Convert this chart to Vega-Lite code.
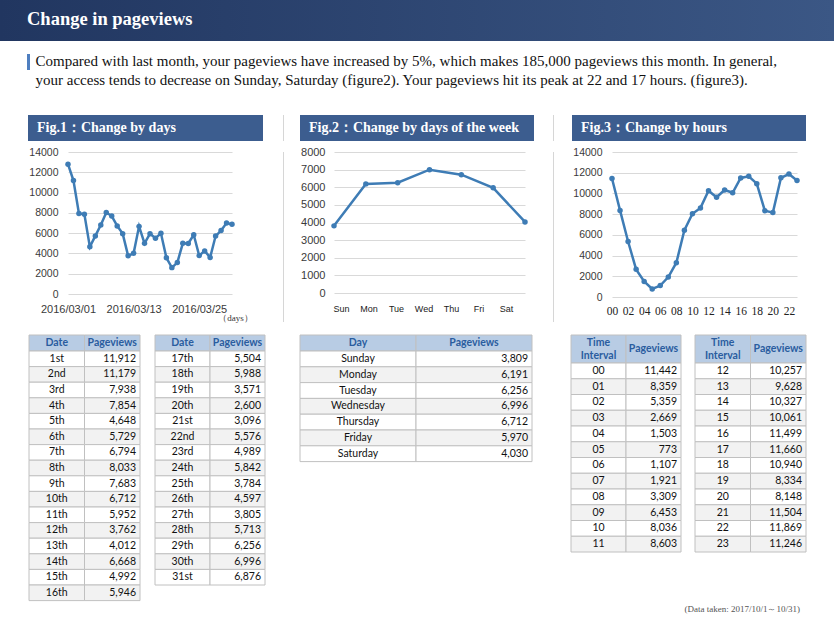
{
"$schema": "https://vega.github.io/schema/vega-lite/v6.json",
"background": "white",
"padding": 0,
"spacing": 0,
"config": {
  "view": {"stroke": null},
  "concat": {"spacing": 0},
  "axis": {"domain": false, "ticks": false, "labelFont": "Liberation Sans", "labelColor": "#3a3a3a", "labelFlush": false, "labelOverlap": false, "gridColor": "#d9d9d9", "gridWidth": 1},
  "axisY": {"grid": true, "labelPadding": 10, "format": "d"},
  "axisX": {"grid": false}
},
"datasets": {
  "fig1": [
    {"day":1,"label":"1st","date":"2016/03/01","pv":11912,"chart":12800},
    {"day":2,"label":"2nd","date":"2016/03/02","pv":11179,"chart":11179},
    {"day":3,"label":"3rd","date":"2016/03/03","pv":7938,"chart":7938},
    {"day":4,"label":"4th","date":"2016/03/04","pv":7854,"chart":7854},
    {"day":5,"label":"5th","date":"2016/03/05","pv":4648,"chart":4648},
    {"day":6,"label":"6th","date":"2016/03/06","pv":5729,"chart":5729},
    {"day":7,"label":"7th","date":"2016/03/07","pv":6794,"chart":6794},
    {"day":8,"label":"8th","date":"2016/03/08","pv":8033,"chart":8033},
    {"day":9,"label":"9th","date":"2016/03/09","pv":7683,"chart":7683},
    {"day":10,"label":"10th","date":"2016/03/10","pv":6712,"chart":6712},
    {"day":11,"label":"11th","date":"2016/03/11","pv":5952,"chart":5952},
    {"day":12,"label":"12th","date":"2016/03/12","pv":3762,"chart":3762},
    {"day":13,"label":"13th","date":"2016/03/13","pv":4012,"chart":4012},
    {"day":14,"label":"14th","date":"2016/03/14","pv":6668,"chart":6668},
    {"day":15,"label":"15th","date":"2016/03/15","pv":4992,"chart":4992},
    {"day":16,"label":"16th","date":"2016/03/16","pv":5946,"chart":5946},
    {"day":17,"label":"17th","date":"2016/03/17","pv":5504,"chart":5504},
    {"day":18,"label":"18th","date":"2016/03/18","pv":5988,"chart":5988},
    {"day":19,"label":"19th","date":"2016/03/19","pv":3571,"chart":3571},
    {"day":20,"label":"20th","date":"2016/03/20","pv":2600,"chart":2600},
    {"day":21,"label":"21st","date":"2016/03/21","pv":3096,"chart":3096},
    {"day":22,"label":"22nd","date":"2016/03/22","pv":5576,"chart":5000},
    {"day":23,"label":"23rd","date":"2016/03/23","pv":4989,"chart":4989},
    {"day":24,"label":"24th","date":"2016/03/24","pv":5842,"chart":5842},
    {"day":25,"label":"25th","date":"2016/03/25","pv":3784,"chart":3784},
    {"day":26,"label":"26th","date":"2016/03/26","pv":4597,"chart":4250},
    {"day":27,"label":"27th","date":"2016/03/27","pv":3805,"chart":3600},
    {"day":28,"label":"28th","date":"2016/03/28","pv":5713,"chart":5713},
    {"day":29,"label":"29th","date":"2016/03/29","pv":6256,"chart":6256},
    {"day":30,"label":"30th","date":"2016/03/30","pv":6996,"chart":6996},
    {"day":31,"label":"31st","date":"2016/03/31","pv":6876,"chart":6876}
  ],
  "fig2": [
    {"n":1,"day":"Sunday","short":"Sun","pv":3809},
    {"n":2,"day":"Monday","short":"Mon","pv":6191},
    {"n":3,"day":"Tuesday","short":"Tue","pv":6256},
    {"n":4,"day":"Wednesday","short":"Wed","pv":6996},
    {"n":5,"day":"Thursday","short":"Thu","pv":6712},
    {"n":6,"day":"Friday","short":"Fri","pv":5970},
    {"n":7,"day":"Saturday","short":"Sat","pv":4030}
  ],
  "fig3": [
    {"hour":"00","pv":11442},{"hour":"01","pv":8359},{"hour":"02","pv":5359},{"hour":"03","pv":2669},
    {"hour":"04","pv":1503},{"hour":"05","pv":773},{"hour":"06","pv":1107},{"hour":"07","pv":1921},
    {"hour":"08","pv":3309},{"hour":"09","pv":6453},{"hour":"10","pv":8036},{"hour":"11","pv":8603},
    {"hour":"12","pv":10257},{"hour":"13","pv":9628},{"hour":"14","pv":10327},{"hour":"15","pv":10061},
    {"hour":"16","pv":11499},{"hour":"17","pv":11660},{"hour":"18","pv":10940},{"hour":"19","pv":8334},
    {"hour":"20","pv":8148},{"hour":"21","pv":11504},{"hour":"22","pv":11869},{"hour":"23","pv":11246}
  ],
  "texts": [
    {"line":1,"text":"Compared with last month, your pageviews have increased by 5%, which makes 185,000 pageviews this month. In general,"},
    {"line":2,"text":"your access tends to decrease on Sunday, Saturday (figure2). Your pageviews hit its peak at 22 and 17 hours. (figure3)."}
  ]
},
"vconcat": [
  {"width": 834, "height": 41, "data": {"values": [{"t": "Change in pageviews"}]},
   "mark": {"type": "text", "align": "left", "dx": -390, "dy": -1.5, "font": "Liberation Serif", "fontSize": 18.5, "fontWeight": "bold", "color": "#ffffff"},
   "encoding": {"text": {"field": "t", "type": "nominal"}},
   "view": {"stroke": null, "fill": {"gradient": "linear", "x1": 0, "y1": 0, "x2": 1, "y2": 0, "stops": [{"offset": 0, "color": "#213660"}, {"offset": 1, "color": "#3b5785"}]}}},
  {"width": 1, "height": 13, "data": {"values": []}, "mark": "point", "encoding": {}},
  {"bounds": "flush", "hconcat": [
    {"width": 27, "height": 1, "data": {"values": []}, "mark": "point", "encoding": {}},
    {"width": 3, "height": 16, "data": {"values": []}, "mark": "point", "encoding": {}, "view": {"stroke": null, "fill": "#4f7fc0"}},
    {"width": 5, "height": 1, "data": {"values": []}, "mark": "point", "encoding": {}},
    {"width": 1, "height": 38, "data": {"name": "texts"},
     "mark": {"type": "text", "align": "left", "dy": -2.5, "font": "Liberation Serif", "fontSize": 15, "color": "#111111"},
     "encoding": {"y": {"field": "line", "type": "ordinal", "axis": null}, "text": {"field": "text", "type": "nominal"}}}
  ]},
  {"width": 1, "height": 23, "data": {"values": []}, "mark": "point", "encoding": {}},
  {"bounds": "flush", "hconcat": [
    {"width": 28, "height": 1, "data": {"values": []}, "mark": "point", "encoding": {}},
    {"width": 235, "height": 26, "data": {"values": [{"t": "Fig.1：Change by days"}]},
     "mark": {"type": "text", "align": "left", "dx": -108.5, "font": "Liberation Serif", "fontSize": 14, "fontWeight": "bold", "color": "#ffffff"},
     "encoding": {"text": {"field": "t", "type": "nominal"}}, "view": {"stroke": null, "fill": "#3c5d8f"}},
    {"width": 20, "height": 1, "data": {"values": []}, "mark": "point", "encoding": {}},
    {"width": 1, "height": 26, "data": {"values": []}, "mark": "point", "encoding": {}, "view": {"stroke": null, "fill": "#d6d6d6"}},
    {"width": 16, "height": 1, "data": {"values": []}, "mark": "point", "encoding": {}},
    {"width": 234, "height": 26, "data": {"values": [{"t": "Fig.2：Change by days of the week"}]},
     "mark": {"type": "text", "align": "left", "dx": -108, "font": "Liberation Serif", "fontSize": 14, "fontWeight": "bold", "color": "#ffffff"},
     "encoding": {"text": {"field": "t", "type": "nominal"}}, "view": {"stroke": null, "fill": "#3c5d8f"}},
    {"width": 19, "height": 1, "data": {"values": []}, "mark": "point", "encoding": {}},
    {"width": 1, "height": 26, "data": {"values": []}, "mark": "point", "encoding": {}, "view": {"stroke": null, "fill": "#d6d6d6"}},
    {"width": 18, "height": 1, "data": {"values": []}, "mark": "point", "encoding": {}},
    {"width": 234, "height": 26, "data": {"values": [{"t": "Fig.3：Change by hours"}]},
     "mark": {"type": "text", "align": "left", "dx": -108, "font": "Liberation Serif", "fontSize": 14, "fontWeight": "bold", "color": "#ffffff"},
     "encoding": {"text": {"field": "t", "type": "nominal"}}, "view": {"stroke": null, "fill": "#3c5d8f"}}
  ]},
  {"width": 1, "height": 4.5, "data": {"values": []}, "mark": "point", "encoding": {}},
  {"bounds": "flush", "hconcat": [
    {"width": 68, "height": 1, "data": {"values": []}, "mark": "point", "encoding": {}},
    {"width": 164, "height": 142, "data": {"name": "fig1"},
     "mark": {"type": "line", "color": "#3e7cb5", "strokeWidth": 2.5, "point": {"filled": true, "size": 30, "color": "#3e7cb5"}},
     "encoding": {
       "x": {"field": "date", "type": "temporal",
             "scale": {"domain": [{"year": 2016, "month": 3, "date": 1}, {"year": 2016, "month": 3, "date": 31}], "nice": false},
             "axis": {"values": [{"year": 2016, "month": 3, "date": 1}, {"year": 2016, "month": 3, "date": 13}, {"year": 2016, "month": 3, "date": 25}], "format": "%Y/%m/%d", "labelFontSize": 11, "labelPadding": 9, "title": "（days）", "titleFont": "Liberation Serif", "titleFontSize": 9, "titleFontWeight": "normal", "titleColor": "#333333", "titleAlign": "center", "titleBaseline": "middle", "titleX": 167, "titleY": 23}},
       "y": {"field": "chart", "type": "quantitative", "scale": {"domain": [0, 14000], "nice": false},
             "axis": {"values": [0, 2000, 4000, 6000, 8000, 10000, 12000, 14000], "title": null, "labelFontSize": 10.5}}
     }},
    {"width": 51, "height": 1, "data": {"values": []}, "mark": "point", "encoding": {}},
    {"width": 1, "height": 170, "data": {"values": []}, "mark": "point", "encoding": {}, "view": {"stroke": null, "fill": "#d6d6d6"}},
    {"width": 50, "height": 1, "data": {"values": []}, "mark": "point", "encoding": {}},
    {"width": 191, "height": 141, "data": {"name": "fig2"},
     "encoding": {"y": {"field": "pv", "type": "quantitative", "scale": {"domain": [0, 8000], "nice": false},
                        "axis": {"values": [0, 1000, 2000, 3000, 4000, 5000, 6000, 7000, 8000], "title": null, "labelFontSize": 11, "labelPadding": 9}}},
     "layer": [
       {"mark": {"type": "line", "color": "#3e7cb5", "strokeWidth": 2.5, "point": {"filled": true, "size": 30, "color": "#3e7cb5"}},
        "encoding": {"x": {"field": "short", "type": "ordinal", "sort": null, "scale": {"type": "point", "padding": 0}, "axis": null}}},
       {"mark": {"type": "point", "opacity": 0},
        "encoding": {"x": {"field": "short", "type": "ordinal", "sort": null, "scale": {"type": "point", "padding": 0.473, "align": 0.27},
                           "axis": {"title": null, "labelAngle": 0, "labelFontSize": 9, "labelPadding": 11, "labelColor": "#222222"}}}}
     ],
     "resolve": {"scale": {"x": "independent"}}},
    {"width": 28, "height": 1, "data": {"values": []}, "mark": "point", "encoding": {}},
    {"width": 1, "height": 170, "data": {"values": []}, "mark": "point", "encoding": {}, "view": {"stroke": null, "fill": "#d6d6d6"}},
    {"width": 58, "height": 1, "data": {"values": []}, "mark": "point", "encoding": {}},
    {"width": 185, "height": 145, "data": {"name": "fig3"},
     "mark": {"type": "line", "color": "#3e7cb5", "strokeWidth": 2.5, "point": {"filled": true, "size": 30, "color": "#3e7cb5"}},
     "encoding": {
       "x": {"field": "hour", "type": "ordinal", "sort": null, "scale": {"type": "point", "padding": 0},
             "axis": {"values": ["00","02","04","06","08","10","12","14","16","18","20","22"], "title": null, "labelAngle": 0, "labelFont": "Liberation Serif", "labelFontSize": 11.5, "labelPadding": 8, "labelColor": "#222222"}},
       "y": {"field": "pv", "type": "quantitative", "scale": {"domain": [0, 14000], "nice": false},
             "axis": {"values": [0, 2000, 4000, 6000, 8000, 10000, 12000, 14000], "title": null, "labelFontSize": 10.5}}
     }}
  ]},
  {"width": 1, "height": 12, "data": {"values": []}, "mark": "point", "encoding": {}},
  {"hconcat": [
    {"width": 28, "height": 1, "data": {"values": []}, "mark": "point", "encoding": {}},
    {"bounds": "flush", "vconcat": [
      {"width": 111, "height": 16, "data": {"values": [{"h": "Date"}, {"h": "Pageviews"}]},
       "encoding": {"x": {"field": "h", "type": "nominal", "sort": null, "axis": null, "scale": {"paddingInner": 0, "paddingOuter": 0}}},
       "layer": [
         {"mark": {"type": "rect", "fill": "#b8cce4", "stroke": "#c0c0c0", "strokeWidth": 1}, "encoding": {}},
         {"mark": {"type": "text", "font": "Lato", "fontSize": 10.5, "fontWeight": "bold", "color": "#2a5d9f"}, "encoding": {"text": {"field": "h", "type": "nominal"}}}
       ]},
      {"width": 111, "height": {"step": 15.6}, "data": {"name": "fig1"}, "transform": [{"filter": "datum.day <= 16"}, {"fold": ["label", "pv"]}],
       "encoding": {"x": {"field": "key", "type": "nominal", "sort": ["label", "pv"], "axis": null, "scale": {"paddingInner": 0, "paddingOuter": 0}},
                    "y": {"field": "day", "type": "ordinal", "axis": null, "scale": {"paddingInner": 0, "paddingOuter": 0}}},
       "layer": [
         {"mark": {"type": "rect", "stroke": "#c0c0c0", "strokeWidth": 1}, "encoding": {"fill": {"condition": {"test": "datum.day % 2 == 0", "value": "#f2f2f2"}, "value": "#ffffff"}}},
         {"transform": [{"filter": "datum.key == 'label'"}], "mark": {"type": "text", "font": "Lato", "fontSize": 10.5, "color": "#111111"}, "encoding": {"text": {"field": "value", "type": "nominal"}}},
         {"transform": [{"filter": "datum.key == 'pv'"}], "mark": {"type": "text", "font": "Lato", "fontSize": 10.5, "color": "#111111", "align": "right", "dx": -4},
          "encoding": {"x": {"field": "key", "type": "nominal", "sort": ["label", "pv"], "bandPosition": 1}, "text": {"field": "value", "type": "quantitative", "format": ","}}}
       ]}
    ]},
    {"width": 13, "height": 1, "data": {"values": []}, "mark": "point", "encoding": {}},
    {"bounds": "flush", "vconcat": [
      {"width": 110, "height": 16, "data": {"values": [{"h": "Date"}, {"h": "Pageviews"}]},
       "encoding": {"x": {"field": "h", "type": "nominal", "sort": null, "axis": null, "scale": {"paddingInner": 0, "paddingOuter": 0}}},
       "layer": [
         {"mark": {"type": "rect", "fill": "#b8cce4", "stroke": "#c0c0c0", "strokeWidth": 1}, "encoding": {}},
         {"mark": {"type": "text", "font": "Lato", "fontSize": 10.5, "fontWeight": "bold", "color": "#2a5d9f"}, "encoding": {"text": {"field": "h", "type": "nominal"}}}
       ]},
      {"width": 110, "height": {"step": 15.6}, "data": {"name": "fig1"}, "transform": [{"filter": "datum.day > 16"}, {"fold": ["label", "pv"]}],
       "encoding": {"x": {"field": "key", "type": "nominal", "sort": ["label", "pv"], "axis": null, "scale": {"paddingInner": 0, "paddingOuter": 0}},
                    "y": {"field": "day", "type": "ordinal", "axis": null, "scale": {"paddingInner": 0, "paddingOuter": 0}}},
       "layer": [
         {"mark": {"type": "rect", "stroke": "#c0c0c0", "strokeWidth": 1}, "encoding": {"fill": {"condition": {"test": "datum.day % 2 == 0", "value": "#f2f2f2"}, "value": "#ffffff"}}},
         {"transform": [{"filter": "datum.key == 'label'"}], "mark": {"type": "text", "font": "Lato", "fontSize": 10.5, "color": "#111111"}, "encoding": {"text": {"field": "value", "type": "nominal"}}},
         {"transform": [{"filter": "datum.key == 'pv'"}], "mark": {"type": "text", "font": "Lato", "fontSize": 10.5, "color": "#111111", "align": "right", "dx": -4},
          "encoding": {"x": {"field": "key", "type": "nominal", "sort": ["label", "pv"], "bandPosition": 1}, "text": {"field": "value", "type": "quantitative", "format": ","}}}
       ]}
    ]},
    {"width": 33, "height": 1, "data": {"values": []}, "mark": "point", "encoding": {}},
    {"bounds": "flush", "vconcat": [
      {"width": 232, "height": 16, "data": {"values": [{"h": "Day"}, {"h": "Pageviews"}]},
       "encoding": {"x": {"field": "h", "type": "nominal", "sort": null, "axis": null, "scale": {"paddingInner": 0, "paddingOuter": 0}}},
       "layer": [
         {"mark": {"type": "rect", "fill": "#b8cce4", "stroke": "#c0c0c0", "strokeWidth": 1}, "encoding": {}},
         {"mark": {"type": "text", "font": "Lato", "fontSize": 10.5, "fontWeight": "bold", "color": "#2a5d9f"}, "encoding": {"text": {"field": "h", "type": "nominal"}}}
       ]},
      {"width": 232, "height": {"step": 15.8}, "data": {"name": "fig2"}, "transform": [{"fold": ["day", "pv"]}],
       "encoding": {"x": {"field": "key", "type": "nominal", "sort": ["day", "pv"], "axis": null, "scale": {"paddingInner": 0, "paddingOuter": 0}},
                    "y": {"field": "n", "type": "ordinal", "axis": null, "scale": {"paddingInner": 0, "paddingOuter": 0}}},
       "layer": [
         {"mark": {"type": "rect", "stroke": "#c0c0c0", "strokeWidth": 1}, "encoding": {"fill": {"condition": {"test": "datum.n % 2 == 0", "value": "#f2f2f2"}, "value": "#ffffff"}}},
         {"transform": [{"filter": "datum.key == 'day'"}], "mark": {"type": "text", "font": "Lato", "fontSize": 10.5, "color": "#111111"}, "encoding": {"text": {"field": "value", "type": "nominal"}}},
         {"transform": [{"filter": "datum.key == 'pv'"}], "mark": {"type": "text", "font": "Lato", "fontSize": 10.5, "color": "#111111", "align": "right", "dx": -4},
          "encoding": {"x": {"field": "key", "type": "nominal", "sort": ["day", "pv"], "bandPosition": 1}, "text": {"field": "value", "type": "quantitative", "format": ","}}}
       ]}
    ]},
    {"width": 37, "height": 1, "data": {"values": []}, "mark": "point", "encoding": {}},
    {"bounds": "flush", "vconcat": [
      {"width": 110, "height": 28, "data": {"values": [{"h": "Time\nInterval"}, {"h": "Pageviews"}]},
       "encoding": {"x": {"field": "h", "type": "nominal", "sort": null, "axis": null, "scale": {"paddingInner": 0, "paddingOuter": 0}}},
       "layer": [
         {"mark": {"type": "rect", "fill": "#b8cce4", "stroke": "#c0c0c0", "strokeWidth": 1}, "encoding": {}},
         {"transform": [{"filter": "datum.h != 'Pageviews'"}], "mark": {"type": "text", "font": "Lato", "fontSize": 10.5, "fontWeight": "bold", "color": "#2a5d9f", "lineBreak": "\n", "lineHeight": 13, "dy": -6.5}, "encoding": {"text": {"field": "h", "type": "nominal"}}},
         {"transform": [{"filter": "datum.h == 'Pageviews'"}], "mark": {"type": "text", "font": "Lato", "fontSize": 10.5, "fontWeight": "bold", "color": "#2a5d9f"}, "encoding": {"text": {"field": "h", "type": "nominal"}}}
       ]},
      {"width": 110, "height": {"step": 15.75}, "data": {"name": "fig3"}, "transform": [{"filter": "toNumber(datum.hour) < 12"}, {"fold": ["hour", "pv"], "as": ["k", "v"]}],
       "encoding": {"x": {"field": "k", "type": "nominal", "sort": ["hour", "pv"], "axis": null, "scale": {"paddingInner": 0, "paddingOuter": 0}},
                    "y": {"field": "hour", "type": "ordinal", "axis": null, "scale": {"paddingInner": 0, "paddingOuter": 0}}},
       "layer": [
         {"mark": {"type": "rect", "stroke": "#c0c0c0", "strokeWidth": 1}, "encoding": {"fill": {"condition": {"test": "toNumber(datum.hour) % 2 == 1", "value": "#f2f2f2"}, "value": "#ffffff"}}},
         {"transform": [{"filter": "datum.k == 'hour'"}], "mark": {"type": "text", "font": "Lato", "fontSize": 10.5, "color": "#111111"}, "encoding": {"text": {"field": "v", "type": "nominal"}}},
         {"transform": [{"filter": "datum.k == 'pv'"}], "mark": {"type": "text", "font": "Lato", "fontSize": 10.5, "color": "#111111", "align": "right", "dx": -4},
          "encoding": {"x": {"field": "k", "type": "nominal", "sort": ["hour", "pv"], "bandPosition": 1}, "text": {"field": "v", "type": "quantitative", "format": ","}}}
       ]}
    ]},
    {"width": 12, "height": 1, "data": {"values": []}, "mark": "point", "encoding": {}},
    {"bounds": "flush", "vconcat": [
      {"width": 111, "height": 28, "data": {"values": [{"h": "Time\nInterval"}, {"h": "Pageviews"}]},
       "encoding": {"x": {"field": "h", "type": "nominal", "sort": null, "axis": null, "scale": {"paddingInner": 0, "paddingOuter": 0}}},
       "layer": [
         {"mark": {"type": "rect", "fill": "#b8cce4", "stroke": "#c0c0c0", "strokeWidth": 1}, "encoding": {}},
         {"transform": [{"filter": "datum.h != 'Pageviews'"}], "mark": {"type": "text", "font": "Lato", "fontSize": 10.5, "fontWeight": "bold", "color": "#2a5d9f", "lineBreak": "\n", "lineHeight": 13, "dy": -6.5}, "encoding": {"text": {"field": "h", "type": "nominal"}}},
         {"transform": [{"filter": "datum.h == 'Pageviews'"}], "mark": {"type": "text", "font": "Lato", "fontSize": 10.5, "fontWeight": "bold", "color": "#2a5d9f"}, "encoding": {"text": {"field": "h", "type": "nominal"}}}
       ]},
      {"width": 111, "height": {"step": 15.75}, "data": {"name": "fig3"}, "transform": [{"filter": "toNumber(datum.hour) >= 12"}, {"fold": ["hour", "pv"], "as": ["k", "v"]}],
       "encoding": {"x": {"field": "k", "type": "nominal", "sort": ["hour", "pv"], "axis": null, "scale": {"paddingInner": 0, "paddingOuter": 0}},
                    "y": {"field": "hour", "type": "ordinal", "axis": null, "scale": {"paddingInner": 0, "paddingOuter": 0}}},
       "layer": [
         {"mark": {"type": "rect", "stroke": "#c0c0c0", "strokeWidth": 1}, "encoding": {"fill": {"condition": {"test": "toNumber(datum.hour) % 2 == 1", "value": "#f2f2f2"}, "value": "#ffffff"}}},
         {"transform": [{"filter": "datum.k == 'hour'"}], "mark": {"type": "text", "font": "Lato", "fontSize": 10.5, "color": "#111111"}, "encoding": {"text": {"field": "v", "type": "nominal"}}},
         {"transform": [{"filter": "datum.k == 'pv'"}], "mark": {"type": "text", "font": "Lato", "fontSize": 10.5, "color": "#111111", "align": "right", "dx": -4},
          "encoding": {"x": {"field": "k", "type": "nominal", "sort": ["hour", "pv"], "bandPosition": 1}, "text": {"field": "v", "type": "quantitative", "format": ","}}}
       ]}
    ]}
  ]},
  {"width": 834, "height": 14, "data": {"values": [{"t": "(Data taken: 2017/10/1～10/31)"}]},
   "mark": {"type": "text", "align": "right", "dx": 383, "font": "Liberation Serif", "fontSize": 9, "color": "#555555"},
   "encoding": {"text": {"field": "t", "type": "nominal"}}},
  {"width": 1, "height": 12, "data": {"values": []}, "mark": "point", "encoding": {}},
  {"width": 834, "height": 1, "data": {"values": []}, "mark": "point", "encoding": {}, "view": {"stroke": null, "fill": "#c8c8c8"}}
]
}
